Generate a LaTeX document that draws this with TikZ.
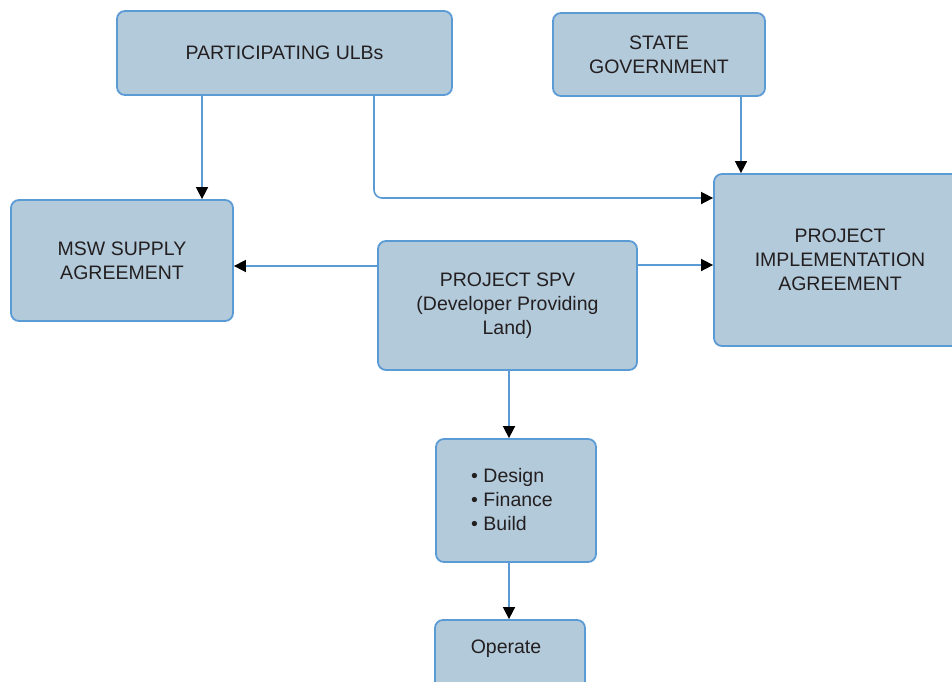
\documentclass[tikz,border=0pt]{standalone}
\usepackage{fontspec}
\setmainfont{Liberation Sans}
\usetikzlibrary{arrows.meta}
\definecolor{boxfill}{HTML}{B3CADB}
\definecolor{boxline}{HTML}{5B9BD5}
\definecolor{txt}{HTML}{231F20}
\tikzset{
  lbl/.style={text=txt, font=\fontsize{19.5}{24}\selectfont},
  blk/.style={lbl, draw=boxline, line width=1.8pt, fill=boxfill, rounded corners=8pt,
    align=center, inner sep=0pt},
  conn/.style={draw=boxline, line width=1.6pt,
    -{Triangle[length=12pt,width=12pt,color=black,fill=black]}}
}
\begin{document}
\begin{tikzpicture}[x=1pt,y=-1pt]
\clip (0,0) rectangle (952,681);
\useasboundingbox (0,0) rectangle (952,681);
\node[blk, minimum width=335pt, minimum height=84pt] (ulb) at (284.5,53) {PARTICIPATING ULBs};
\node[blk, minimum width=212pt, minimum height=83pt] (state) at (659,54.5) {STATE\\GOVERNMENT};
\node[blk, minimum width=222pt, minimum height=121pt] (msw) at (122,260.5) {MSW SUPPLY\\AGREEMENT};
\node[blk, minimum width=259pt, minimum height=129pt] (spv) at (507.5,305.5) {PROJECT SPV\\(Developer Providing\\Land)};
\node[blk, minimum width=252pt, minimum height=172pt] (pia) at (840,260) {PROJECT\\IMPLEMENTATION\\AGREEMENT};
\node[blk, minimum width=160pt, minimum height=123pt] (dfb) at (516,500.5) {};
\node[lbl, align=left, anchor=west, inner sep=0pt] (dfbtxt) at (471,499.5) {• Design\\• Finance\\• Build};
\node[blk, minimum width=150pt, minimum height=70pt] (op) at (510,655) {};
\node[lbl] (optxt) at (506,649) {Operate};
\coordinate (c1) at (374,198);
\draw[conn] (ulb.south -| 202,0) -- (msw.north -| 202,0);
\draw[conn, rounded corners=8pt] (ulb.south -| c1) -- (c1) -- (c1 -| pia.west);
\draw[conn] (state.south -| 741,0) -- (pia.north -| 741,0);
\draw[conn] (spv.west |- 0,266) -- (msw.east |- 0,266);
\draw[conn] (spv.east |- 0,265) -- (pia.west |- 0,265);
\draw[conn] (spv.south -| 509,0) -- (dfb.north -| 509,0);
\draw[conn] (dfb.south -| 509,0) -- (op.north -| 509,0);
\end{tikzpicture}
\end{document}
